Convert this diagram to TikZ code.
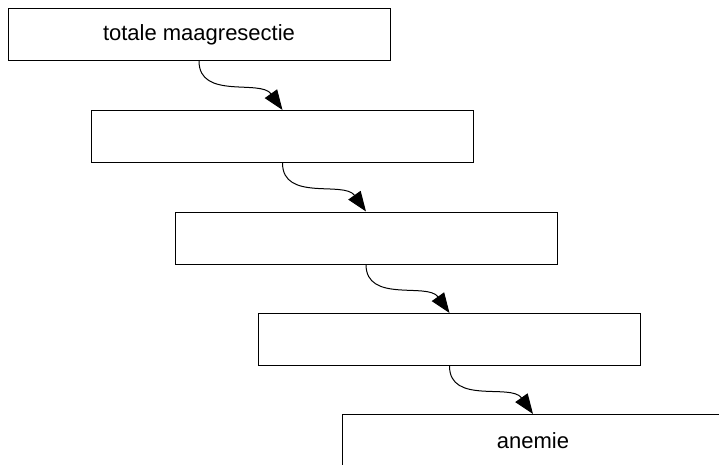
\documentclass[tikz,border=0pt]{standalone}
\usepackage{fontspec}
\setmainfont{Liberation Sans}
\usepackage{tikz}
\usetikzlibrary{arrows.meta}

\begin{document}
\begin{tikzpicture}[x=1pt,y=-1pt,
  stapbox/.style={draw, line width=1pt, minimum width=382pt, minimum height=52pt,
    inner sep=0pt, font=\fontsize{22}{26}\selectfont},
  pijl/.style={line width=1pt, -{Triangle[length=20pt,width=15pt]}}]
\clip (0,0) rectangle (719,464);
% Boxes
\node[stapbox] (resectie) at (199, 34.5) {totale maagresectie};
\node[stapbox] (stap2) at (282.5, 136.5) {};
\node[stapbox] (stap3) at (366, 238) {};
\node[stapbox] (stap4) at (449.5, 339.5) {};
\node[stapbox] (anemie) at (533, 440.5) {anemie};
%
% Edges:
\draw[pijl] (resectie.south) .. controls +(0,39) and +(-22,-31) .. (stap2.north);
\draw[pijl] (stap2.south) .. controls +(0,39) and +(-22,-31) .. (stap3.north);
\draw[pijl] (stap3.south) .. controls +(0,39) and +(-22,-31) .. (stap4.north);
\draw[pijl] (stap4.south) .. controls +(0,39) and +(-22,-31) .. (anemie.north);
\end{tikzpicture}
\end{document}
